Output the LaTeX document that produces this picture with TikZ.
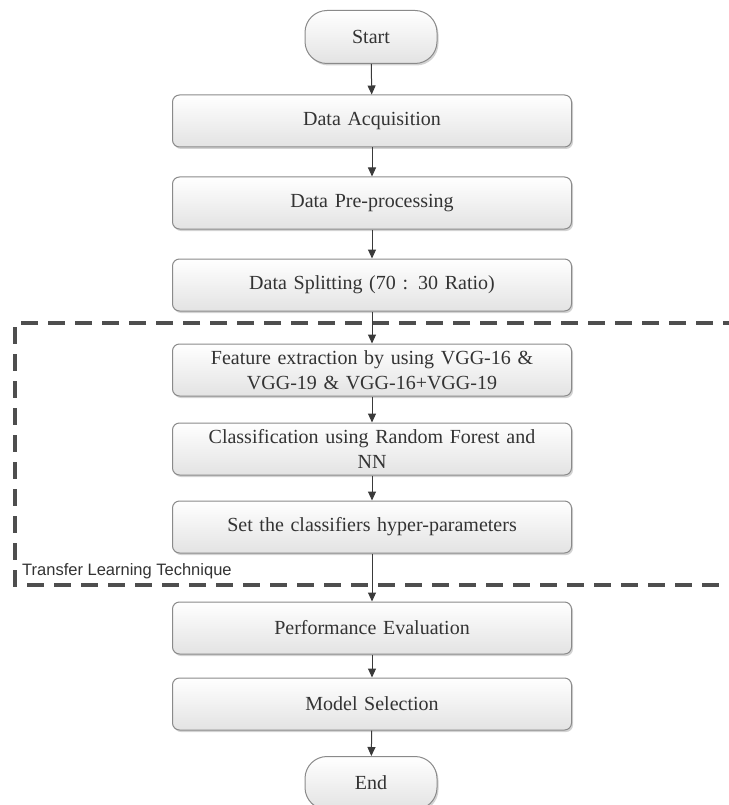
\documentclass[tikz,border=0pt]{standalone}
\usepackage{fontspec}
\setmainfont{Liberation Serif}
\newfontfamily\labelfont{Liberation Sans}
\usetikzlibrary{arrows.meta,shadows}
\definecolor{txt}{HTML}{333333}
\definecolor{edge}{HTML}{8A8A8A}
\definecolor{arr}{HTML}{3A3A3A}
\tikzset{
  stepbox/.style={draw=edge, line width=1pt, rounded corners=7pt, top color=white, bottom color=gray!22,
    minimum width=399pt, minimum height=52pt, text width=390pt, align=center,
    font=\fontsize{20}{25}\selectfont, text=txt,
    drop shadow={shadow xshift=1.5pt, shadow yshift=-2pt, opacity=0.35}},
  termbox/.style={draw=edge, line width=1pt, rounded corners=22pt, top color=white, bottom color=gray!22,
    minimum width=132pt, minimum height=53pt, align=center,
    font=\fontsize{20}{25}\selectfont, text=txt,
    drop shadow={shadow xshift=1.5pt, shadow yshift=-2pt, opacity=0.35}},
  flow/.style={draw=arr, line width=1pt, -{Triangle[length=9pt,width=8pt]}},
  frame/.style={draw=arr!90, line width=3.5pt, dash pattern=on 17pt off 10pt}
}
\begin{document}
\begin{tikzpicture}[x=1pt,y=-1pt]
\useasboundingbox (0,0) rectangle (728,805);
\node[termbox] (start) at (371,37) {Start};
\node[stepbox] (acq) at (372,121) {Data Acquisition};
\node[stepbox] (pre) at (372,203) {Data Pre-processing};
\node[stepbox] (split) at (372,285) {Data Splitting (70 : 30 Ratio)};
\node[stepbox] (feat) at (372,370) {Feature extraction by using VGG-16 \&\\ VGG-19 \& VGG-16+VGG-19};
\node[stepbox] (cls) at (372,449) {Classification using Random Forest and\\ NN};
\node[stepbox] (hyp) at (372,527) {Set the classifiers hyper-parameters};
\node[stepbox] (perf) at (372,628) {Performance Evaluation};
\node[stepbox] (sel) at (372,704) {Model Selection};
\node[termbox] (end) at (371,783) {End};
\coordinate (tl) at (15,323);
\coordinate (tr) at (740,323);
\coordinate (bl) at (15,585);
\coordinate (br) at (740,585);
\draw[frame] (tr) -- (tl) -- (bl) -- (br);
\node[font=\labelfont\fontsize{16.5}{18}\selectfont, text=txt, anchor=south west, inner sep=0pt] (tlt) at (22,579) {Transfer Learning Technique};
\draw[flow] (start) -- (acq);
\draw[flow] (acq) -- (pre);
\draw[flow] (pre) -- (split);
\draw[flow] (split) -- (feat);
\draw[flow] (feat) -- (cls);
\draw[flow] (cls) -- (hyp);
\draw[flow] (hyp) -- (perf);
\draw[flow] (perf) -- (sel);
\draw[flow] (sel) -- (end);
\end{tikzpicture}
\end{document}
